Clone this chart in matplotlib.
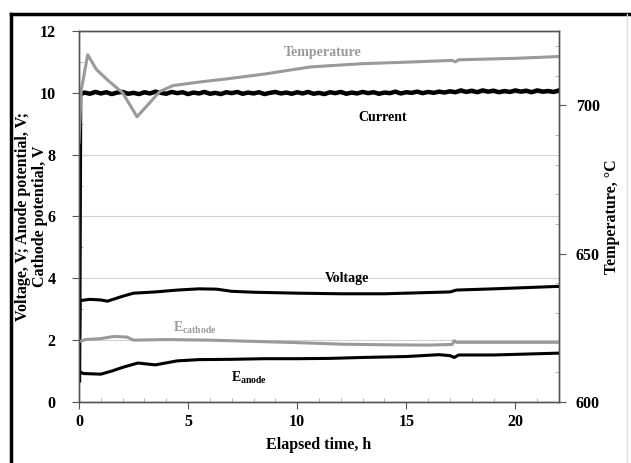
import matplotlib
matplotlib.use("Agg")
import matplotlib.pyplot as plt
from matplotlib.lines import Line2D
from matplotlib.ticker import MultipleLocator

plt.rcParams['font.family'] = ['Liberation Serif', 'DejaVu Serif']
plt.rcParams['font.weight'] = 'bold'

# ---- data ----
cur_t = [0, 0.05, 0.25, 0.5, 0.75, 1.0, 1.25, 1.5, 1.75, 2.0, 2.25, 2.5, 2.75, 3.0,
         3.25, 3.5, 3.75, 4.0, 4.25, 4.5, 4.75, 5.0, 5.25, 5.5, 5.75, 6.0, 6.25, 6.5,
         6.75, 7.0, 7.25, 7.5, 7.75, 8.0, 8.25, 8.5, 8.75, 9.0, 9.25, 9.5, 9.75, 10.0,
         10.25, 10.5, 10.75, 11.0, 11.25, 11.5, 11.75, 12.0, 12.25, 12.5, 12.75, 13.0,
         13.25, 13.5, 13.75, 14.0, 14.25, 14.5, 14.75, 15.0, 15.25, 15.5, 15.75, 16.0,
         16.25, 16.5, 16.75, 17.0, 17.25, 17.5, 17.75, 18.0, 18.25, 18.5, 18.75, 19.0,
         19.25, 19.5, 19.75, 20.0, 20.25, 20.5, 20.75, 21.0, 21.25, 21.5, 21.75, 22.0]
cur_v = [0.7, 9.95, 10.01, 9.97, 10.03, 9.98, 10.02, 9.96, 10.01, 10.03, 9.97, 10.00,
         9.96, 10.02, 9.98, 10.04, 10.00, 9.97, 10.03, 9.99, 10.02, 9.96, 10.01, 9.98,
         10.03, 9.97, 10.00, 9.96, 10.02, 9.99, 10.03, 9.97, 10.01, 9.98, 10.02, 9.96,
         10.00, 10.03, 9.98, 10.01, 9.97, 10.02, 9.98, 10.03, 9.97, 10.00, 9.96, 10.02,
         9.99, 10.03, 9.97, 10.01, 9.98, 10.03, 9.99, 10.02, 9.97, 10.01, 9.99, 10.04,
         9.98, 10.02, 10.00, 10.04, 9.99, 10.03, 10.00, 10.04, 10.01, 10.05, 10.02,
         10.08, 10.03, 10.07, 10.02, 10.08, 10.04, 10.07, 10.02, 10.06, 10.03, 10.08,
         10.04, 10.07, 10.02, 10.08, 10.04, 10.06, 10.03, 10.08]

volt_t = [0, 0.05, 0.5, 1.0, 1.3, 2.0, 2.5, 3.5, 4.5, 5.5, 6.3, 7.0, 8.0, 10.0, 12.0,
          14.0, 16.0, 17.0, 17.3, 19.0, 22.0]
volt_v = [0.7, 3.28, 3.32, 3.30, 3.26, 3.42, 3.52, 3.56, 3.62, 3.66, 3.65, 3.58, 3.55,
          3.52, 3.50, 3.50, 3.54, 3.56, 3.62, 3.66, 3.74]

cath_t = [0, 0.3, 1.0, 1.6, 2.2, 2.5, 4.0, 6.0, 8.0, 10.0, 12.0, 14.0, 16.0, 17.1,
          17.2, 17.3, 19.0, 22.0]
cath_v = [1.95, 2.02, 2.05, 2.12, 2.10, 2.0, 2.02, 2.0, 1.96, 1.92, 1.87, 1.85, 1.84,
          1.86, 1.98, 1.93, 1.93, 1.93]

anod_t = [0, 0.2, 1.0, 1.5, 2.0, 2.7, 3.5, 4.5, 5.5, 7.0, 8.5, 10.0, 11.5, 13.0, 15.0,
          16.5, 17.0, 17.2, 17.4, 19.0, 22.0]
anod_v = [0.98, 0.92, 0.90, 1.00, 1.12, 1.26, 1.20, 1.33, 1.37, 1.38, 1.40, 1.40, 1.41,
          1.44, 1.47, 1.53, 1.50, 1.44, 1.52, 1.52, 1.58]

temp_t = [0, 0.1, 0.4, 0.8, 1.4, 2.0, 2.66, 3.2, 3.7, 4.3, 5.5, 6.8, 8.5, 10.6, 13.0,
          15.0, 17.1, 17.25, 17.4, 20.0, 22.0]
temp_v = [687.5, 705, 717.0, 712.0, 707.9, 704.2, 696.1, 700.5, 704.6, 706.6, 707.8,
          708.9, 710.5, 712.9, 714.0, 714.5, 715.1, 714.6, 715.3, 715.8, 716.4]

gray = '#9a9a9a'
spine_c = '#555555'

fig = plt.figure(figsize=(6.31, 4.63), dpi=100)
ax = fig.add_axes([0.1252, 0.1318, 0.7607, 0.8012])
ax2 = ax.twinx()

ax.plot(cur_t, cur_v, color='black', linewidth=3.2, zorder=3)
ax.plot(volt_t, volt_v, color='black', linewidth=2.2, zorder=3)
ax.plot(cath_t, cath_v, color=gray, linewidth=2.2, zorder=3)
ax.plot(anod_t, anod_v, color='black', linewidth=2.2, zorder=3)
ax2.plot(temp_t, temp_v, color=gray, linewidth=2.2)

ax.set_xlim(0, 22)
ax.set_ylim(0, 12)
ax2.set_ylim(600, 725)

ax.set_xticks([0, 5, 10, 15, 20])
ax.set_yticks([0, 2, 4, 6, 8, 10, 12])
ax.xaxis.set_minor_locator(MultipleLocator(1))
ax.yaxis.set_minor_locator(MultipleLocator(1))
ax2.set_yticks([600, 650, 700])
ax2.yaxis.set_minor_locator(MultipleLocator(10))

ax.grid(True, axis='y', color='#d0d0d0', linewidth=0.8)
ax.set_axisbelow(True)

for a in (ax, ax2):
    for s in a.spines.values():
        s.set_color(spine_c)
        s.set_linewidth(1.0)
    a.tick_params(which='major', direction='out', length=5, color=spine_c,
                  labelsize=11.5)
    a.tick_params(which='minor', direction='in', length=3, color='#aaaaaa')
ax.tick_params(axis='y', which='major', pad=12)
ax.tick_params(axis='x', which='major', pad=4)
ax2.tick_params(axis='y', which='major', pad=7)

ax.set_xlabel('Elapsed time, h', fontsize=11.5, fontweight='bold')
ax.xaxis.set_label_coords(0.5, -0.094)
ax.set_ylabel('Voltage, V; Anode potential, V;\nCathode potential, V', fontsize=11.5,
              fontweight='bold', linespacing=1.05)
ax.yaxis.set_label_coords(-0.065, 0.5)
ax2.set_ylabel('Temperature, \u00b0C', fontsize=11.5, fontweight='bold')
ax2.yaxis.set_label_coords(1.094, 0.5)

# in-plot labels
ax2.text(11.15, 717.6, 'Temperature', color=gray, fontsize=10, ha='center', va='center')
ax.text(13.9, 9.2, 'Current', color='black', fontsize=10, ha='center', va='center')
ax.text(12.3, 3.98, 'Voltage', color='black', fontsize=10, ha='center', va='center')
ax.text(5.3, 2.39, r'E$_{\mathregular{cathode}}$', color=gray, fontsize=10,
        ha='center', va='center')
ax.text(7.8, 0.78, r'E$_{\mathregular{anode}}$', color='black', fontsize=10,
        ha='center', va='center')

# picture frame around the figure
fig.add_artist(Line2D([0.0174, 1.0], [0.970, 0.970], color='black', linewidth=2.5,
                      transform=fig.transFigure))
fig.add_artist(Line2D([0.0174, 0.0174], [0.0, 0.970], color='black', linewidth=2.5,
                      transform=fig.transFigure))
fig.add_artist(Line2D([0.994, 0.994], [0.0, 0.970], color='#dddddd', linewidth=1.0,
                      transform=fig.transFigure))

fig.savefig('out.png', dpi=100)
